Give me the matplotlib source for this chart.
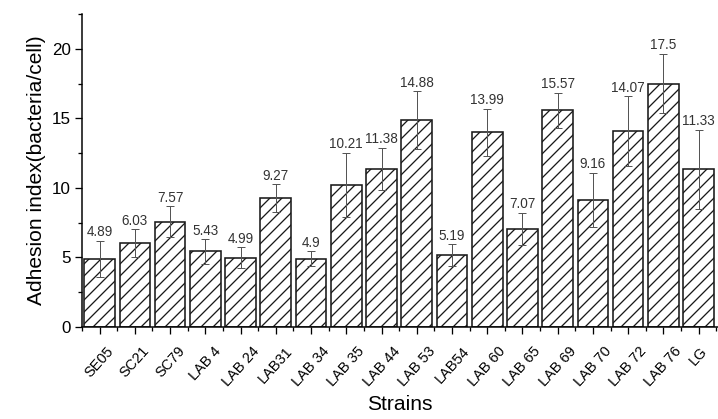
import matplotlib
matplotlib.use("Agg")
import matplotlib.pyplot as plt
import numpy as np
from matplotlib.ticker import MultipleLocator

strains = ["SE05", "SC21", "SC79", "LAB 4", "LAB 24", "LAB31", "LAB 34", "LAB 35",
           "LAB 44", "LAB 53", "LAB54", "LAB 60", "LAB 65", "LAB 69", "LAB 70",
           "LAB 72", "LAB 76", "LG"]
adhesion = [4.89, 6.03, 7.57, 5.43, 4.99, 9.27, 4.9, 10.21, 11.38, 14.88,
            5.19, 13.99, 7.07, 15.57, 9.16, 14.07, 17.5, 11.33]
sd = [1.30, 0.98, 1.12, 0.88, 0.73, 1.00, 0.55, 2.33, 1.52, 2.09,
      0.77, 1.71, 1.16, 1.28, 1.94, 2.52, 2.15, 2.86]

plt.rcParams["font.family"] = ["Liberation Sans", "DejaVu Sans"]
plt.rcParams["hatch.linewidth"] = 1.3

DPI = 72
fig = plt.figure(figsize=(718 / DPI, 419 / DPI), dpi=DPI)
ax = fig.add_axes([82 / 718, 1 - 327 / 419, 636 / 718, (327 - 14) / 419])

x = np.arange(1, len(strains) + 1)
ax.bar(x, adhesion, width=0.87, color="white", edgecolor="#1a1a1a",
       linewidth=1.6, hatch="//", zorder=2)
ax.errorbar(x, adhesion, yerr=sd, fmt="none", ecolor="#555555",
            elinewidth=1.0, capsize=4, capthick=1.0, zorder=3)

for xi, v, e in zip(x, adhesion, sd):
    ax.text(xi, v + e + 0.1, f"{v:g}", ha="center", va="bottom",
            fontsize=13.5, color="#333333")

ax.set_xlim(0.53, 18.55)
ax.set_ylim(0, 22.5)
ax.spines["top"].set_visible(False)
ax.spines["right"].set_visible(False)
for s in ("left", "bottom"):
    ax.spines[s].set_linewidth(1.5)

ax.yaxis.set_major_locator(MultipleLocator(5))
ax.yaxis.set_minor_locator(MultipleLocator(2.5))
ax.set_xticks(x)
ax.set_xticks(np.arange(0.5, len(strains) + 1, 1.0), minor=True)
ax.set_xticklabels(strains, rotation=48, ha="center", fontsize=14.5)
ax.tick_params(axis="both", which="major", direction="out", length=7, width=1.3)
ax.tick_params(axis="y", which="major", labelsize=17, pad=4)
ax.tick_params(axis="x", which="major", pad=10)
ax.tick_params(axis="both", which="minor", direction="out", length=4, width=1.3)

ax.set_ylabel("Adhesion index(bacteria/cell)", fontsize=21, labelpad=6)
ax.set_xlabel("Strains", fontsize=21)
ax.xaxis.label.set_va("baseline")
ax.xaxis.set_label_coords(0.5, -0.266)

fig.savefig("out.png", dpi=DPI)
